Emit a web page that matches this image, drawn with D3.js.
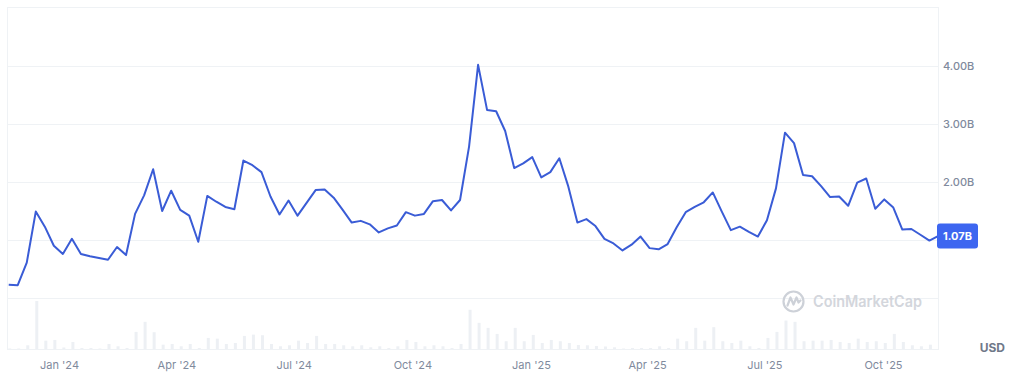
<!DOCTYPE html>
<html>
<head>
<meta charset="utf-8">
<script src="https://cdn.jsdelivr.net/npm/d3@7"></script>
<style>
  html, body { margin: 0; padding: 0; background: #fff; }
  svg { display: block; font-family: Inter, "Noto Sans", sans-serif; }
</style>
</head>
<body>
<svg id="chart" width="1019" height="378"></svg>
<script>
// weekly points, first one on 23 Nov 2023
const startDate = Date.UTC(2023, 10, 23);

// price series, billions USD
const priceValues = [
  0.23, 0.22, 0.61, 1.49, 1.23, 0.90, 0.76, 1.02, 0.76, 0.72,
  0.69, 0.66, 0.88, 0.74, 1.45, 1.77, 2.22, 1.50, 1.85, 1.52,
  1.42, 0.97, 1.76, 1.66, 1.57, 1.53, 2.37, 2.29, 2.17, 1.75,
  1.44, 1.68, 1.42, 1.64, 1.86, 1.87, 1.73, 1.52, 1.30, 1.33,
  1.27, 1.13, 1.20, 1.25, 1.48, 1.42, 1.45, 1.67, 1.69, 1.51,
  1.69, 2.61, 4.02, 3.24, 3.22, 2.88, 2.24, 2.32, 2.43, 2.08,
  2.17, 2.41, 1.92, 1.30, 1.36, 1.24, 1.02, 0.94, 0.82, 0.92,
  1.06, 0.86, 0.84, 0.93, 1.22, 1.48, 1.57, 1.65, 1.82, 1.49,
  1.17, 1.23, 1.14, 1.06, 1.34, 1.89, 2.85, 2.67, 2.12, 2.10,
  1.93, 1.74, 1.75, 1.59, 1.99, 2.06, 1.54, 1.70, 1.56, 1.18,
  1.19, 1.09, 0.99, 1.07
];

// volume series (relative)
const volumeValues = [
  0.5, 0.5, 3.7, 47.7, 8.3, 9.0, 1.5, 7.0, 1.0, 1.0,
  0.5, 5.0, 2.7, 1.0, 17.0, 27.0, 16.7, 4.3, 5.0, 2.7,
  5.0, 1.0, 11.0, 10.3, 5.0, 6.0, 13.0, 14.3, 13.7, 5.0,
  2.7, 3.7, 8.3, 6.0, 13.0, 5.0, 5.0, 3.7, 2.7, 3.7,
  1.7, 2.7, 1.0, 2.7, 9.0, 7.0, 2.7, 3.7, 2.7, 1.0,
  5.0, 39.0, 26.0, 21.0, 15.0, 7.7, 21.0, 7.7, 14.0, 6.0,
  9.0, 7.7, 6.0, 4.0, 3.7, 3.0, 2.5, 1.7, 0.5, 1.0,
  1.0, 1.0, 2.7, 1.0, 10.3, 7.7, 21.0, 8.3, 21.7, 7.7,
  6.0, 8.3, 2.7, 1.0, 11.0, 17.0, 28.3, 27.0, 7.7, 8.3,
  8.3, 9.0, 7.0, 6.0, 10.3, 7.0, 7.7, 6.0, 15.0, 7.0,
  3.7, 2.7, 4.3, 3.0
];

const xTickDates = [
  Date.UTC(2024, 0, 1), Date.UTC(2024, 3, 1), Date.UTC(2024, 6, 1), Date.UTC(2024, 9, 1),
  Date.UTC(2025, 0, 1), Date.UTC(2025, 3, 1), Date.UTC(2025, 6, 1), Date.UTC(2025, 9, 1)
];
const yTickValues = [2, 3, 4];
const lastLabel = "1.07B";
const unitLabel = "USD";

const data = priceValues.map((v, i) => ({
  date: d3.utcDay.offset(new Date(startDate), 7 * i),
  price: v,
  volume: volumeValues[i]
}));

const svg = d3.select("#chart");
const plotLeft = 7, plotRight = 938, plotTop = 7, plotBottom = 349;
const gridColor = "#eff2f5";
const lineColor = "#3a5cd6";
const labelColor = "#808a9d";

// time scale calibrated on the quarter labels
const calib = d3.scaleUtc()
  .domain([new Date(xTickDates[0]), new Date(xTickDates[7])])
  .range([59, 883]);
const x = d3.scaleUtc()
  .domain([calib.invert(plotLeft), calib.invert(plotRight)])
  .range([plotLeft, plotRight]);

const y = d3.scaleLinear().domain([0, 5]).range([298, 8]);
const yVol = d3.scaleLinear()
  .domain([0, d3.max(volumeValues)])
  .range([plotBottom, 301]);

// frame + grid
svg.append("g")
  .selectAll("line")
  .data([0, 1, 2, 3, 4])
  .join("line")
  .attr("x1", plotLeft).attr("x2", plotRight)
  .attr("y1", d => y(d) + 0.5).attr("y2", d => y(d) + 0.5)
  .attr("stroke", gridColor);

svg.append("rect")
  .attr("x", plotLeft + 0.5).attr("y", plotTop + 0.5)
  .attr("width", plotRight - plotLeft).attr("height", plotBottom - plotTop)
  .attr("fill", "none")
  .attr("stroke", gridColor);

svg.append("defs").append("clipPath")
  .attr("id", "plotClip")
  .append("rect")
  .attr("x", plotLeft).attr("y", plotTop)
  .attr("width", plotRight - plotLeft).attr("height", plotBottom - plotTop);

const plot = svg.append("g").attr("clip-path", "url(#plotClip)");

// volume bars
plot.append("g")
  .selectAll("rect")
  .data(data)
  .join("rect")
  .attr("x", d => x(d.date) - 0.5)
  .attr("width", 3)
  .attr("y", d => yVol(d.volume))
  .attr("height", d => plotBottom - yVol(d.volume))
  .attr("fill", "#edf0f4");

// watermark
const wm = svg.append("g")
  .attr("transform", "translate(793.5,301.5)")
  .attr("fill", "none")
  .attr("stroke", "#cdd1d8")
  .attr("stroke-width", 2.2);
wm.append("circle").attr("r", 10);
wm.append("path")
  .attr("d", "M-6,4 L-3,-4 L0,3 L3,-4 L5,1 L7,-1")
  .attr("stroke-linejoin", "round")
  .attr("stroke-linecap", "round");
svg.append("text")
  .attr("x", 813).attr("y", 307)
  .attr("font-size", 15.5)
  .attr("font-weight", 600)
  .attr("textLength", 109)
  .attr("lengthAdjust", "spacingAndGlyphs")
  .attr("fill", "#d3d6dc")
  .text("CoinMarketCap");

// price line
const line = d3.line()
  .x(d => x(d.date))
  .y(d => y(d.price));

plot.append("path")
  .datum(data)
  .attr("d", line)
  .attr("fill", "none")
  .attr("stroke", lineColor)
  .attr("stroke-width", 2)
  .attr("stroke-linejoin", "round");

// x axis
const xAxis = svg.append("g")
  .attr("transform", `translate(0,${plotBottom})`)
  .call(d3.axisBottom(x)
    .tickValues(xTickDates.map(t => new Date(t)))
    .tickFormat(d3.utcFormat("%b '%y"))
    .tickSize(0)
    .tickPadding(12));
xAxis.select(".domain").remove();
xAxis.selectAll("text")
  .attr("fill", labelColor)
  .attr("font-size", 11)
  .attr("font-family", "Inter, sans-serif");

// y axis
const yAxis = svg.append("g")
  .attr("transform", `translate(${plotRight},0)`)
  .call(d3.axisRight(y)
    .tickValues(yTickValues)
    .tickFormat(d => d.toFixed(2) + "B")
    .tickSize(0)
    .tickPadding(5));
yAxis.select(".domain").remove();
yAxis.selectAll("text")
  .attr("fill", labelColor)
  .attr("font-size", 11)
  .attr("font-weight", 500)
  .attr("font-family", "Inter, sans-serif");

// last value badge
const lastY = y(priceValues[priceValues.length - 1]);
svg.append("rect")
  .attr("x", 937).attr("y", lastY - 12.5)
  .attr("width", 41).attr("height", 25)
  .attr("rx", 3)
  .attr("fill", "#3d66f0");
svg.append("text")
  .attr("x", 943).attr("y", lastY)
  .attr("dy", "0.35em")
  .attr("font-size", 11)
  .attr("font-weight", 700)
  .attr("fill", "#fff")
  .text(lastLabel);

svg.append("text")
  .attr("x", 1005).attr("y", 348)
  .attr("dy", "0.35em")
  .attr("text-anchor", "end")
  .attr("font-size", 12)
  .attr("font-weight", 700)
  .attr("fill", "#6f7889")
  .text(unitLabel);
</script>
</body>
</html>
